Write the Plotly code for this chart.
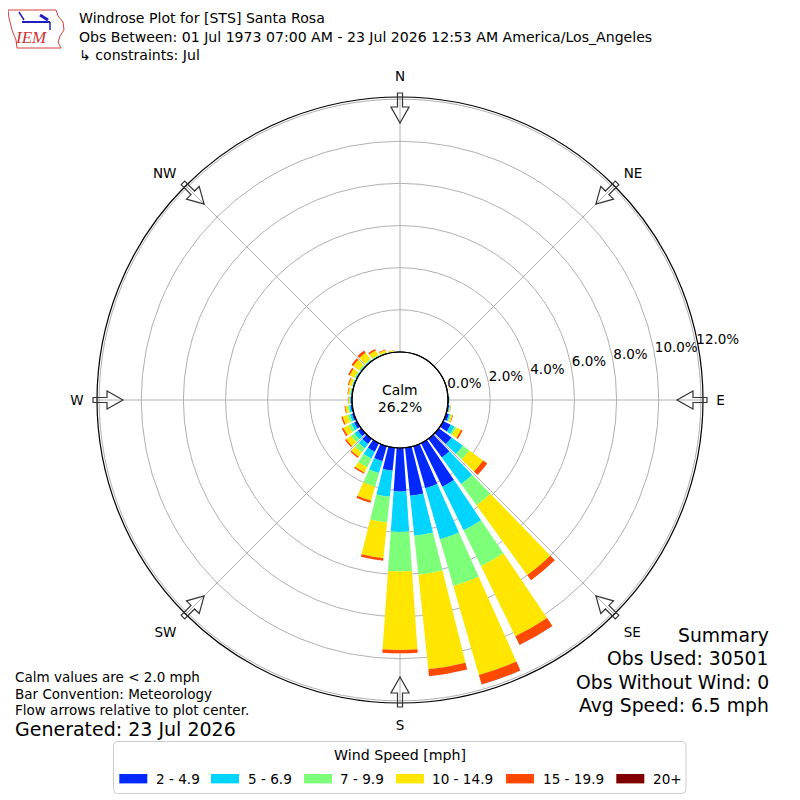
import math
import plotly.graph_objects as go

# ---------------- data ----------------
directions = list(range(0, 360, 10))
speed_labels = ["2 - 4.9", "5 - 6.9", "7 - 9.9", "10 - 14.9", "15 - 19.9", "20+"]
colors = ["#0028ff", "#00d4ff", "#7dff7a", "#ffe600", "#ff4800", "#800000"]

# frequency (%) of each speed bin per 10-degree direction (0, 10, ..., 350)
freq_2_5 = [0.02, 0.01, 0.01, 0.01, 0.01, 0.01, 0.01, 0.01, 0.02, 0.05, 0.07, 0.14,
            0.40, 0.75, 1.10, 2.30, 2.08, 2.29, 2.06, 1.10, 0.74, 0.45, 0.30, 0.20,
            0.15, 0.10, 0.08, 0.06, 0.05, 0.05, 0.05, 0.04, 0.04, 0.03, 0.02, 0.02]
freq_5_7 = [0.01, 0.01, 0.00, 0.00, 0.00, 0.00, 0.00, 0.01, 0.01, 0.02, 0.03, 0.06,
            0.20, 0.66, 1.55, 2.30, 2.52, 1.91, 1.92, 1.24, 0.59, 0.37, 0.25, 0.20,
            0.15, 0.10, 0.07, 0.04, 0.03, 0.03, 0.03, 0.03, 0.03, 0.02, 0.02, 0.01]
freq_7_10 = [0.01, 0.00, 0.01, 0.00, 0.00, 0.00, 0.00, 0.00, 0.00, 0.01, 0.02, 0.05,
             0.10, 0.38, 1.25, 1.90, 2.30, 1.86, 1.88, 1.23, 0.67, 0.45, 0.25, 0.20,
             0.15, 0.12, 0.07, 0.04, 0.04, 0.04, 0.06, 0.06, 0.05, 0.05, 0.03, 0.02]
freq_10_15 = [0.01, 0.01, 0.00, 0.01, 0.00, 0.00, 0.01, 0.00, 0.01, 0.01, 0.03, 0.07,
              0.25, 0.81, 4.10, 3.70, 4.40, 4.51, 3.72, 1.69, 0.70, 0.28, 0.25, 0.28,
              0.27, 0.23, 0.11, 0.04, 0.08, 0.13, 0.24, 0.34, 0.38, 0.23, 0.11, 0.04]
freq_15_20 = [0.00, 0.00, 0.00, 0.00, 0.00, 0.00, 0.00, 0.00, 0.00, 0.00, 0.01, 0.03,
              0.08, 0.24, 0.30, 0.45, 0.46, 0.33, 0.16, 0.13, 0.10, 0.07, 0.07, 0.07,
              0.08, 0.07, 0.04, 0.02, 0.03, 0.05, 0.08, 0.10, 0.12, 0.08, 0.04, 0.01]
freq_20p = [0.00, 0.00, 0.00, 0.00, 0.00, 0.00, 0.00, 0.00, 0.00, 0.00, 0.00, 0.00,
            0.00, 0.00, 0.00, 0.01, 0.01, 0.00, 0.00, 0.00, 0.00, 0.00, 0.00, 0.00,
            0.00, 0.00, 0.00, 0.00, 0.00, 0.00, 0.00, 0.00, 0.01, 0.00, 0.00, 0.00]
series = [freq_2_5, freq_5_7, freq_7_10, freq_10_15, freq_15_20, freq_20p]

radial_ticks = [0, 2, 4, 6, 8, 10, 12]
compass_angles = [0, 45, 90, 135, 180, 225, 270, 315]
compass_labels = ["N", "NE", "E", "SE", "S", "SW", "W", "NW"]

calm_pct = 26.2
title_lines = ["Windrose Plot for [STS] Santa Rosa",
               "Obs Between: 01 Jul 1973 07:00 AM - 23 Jul 2026 12:53 AM America/Los_Angeles",
               "\u21b3 constraints: Jul"]
notes = ["Calm values are < 2.0 mph", "Bar Convention: Meteorology",
         "Flow arrows relative to plot center."]
generated = "Generated: 23 Jul 2026"
summary = ["Summary", "Obs Used: 30501", "Obs Without Wind: 0", "Avg Speed: 6.5 mph"]

# ---------------- geometry (screen pixels) ----------------
W = H = 800
SHIFT = 8                   # page body offset of the plot div
CX, CY = 400, 400           # pixel centre
R_OUT = 303                 # outer radius px
R_HOLE = 48                 # hole radius px
RMAX = 12.1
FONT = "DejaVu Sans"


def px(x):
    return (x - SHIFT) / W


def py(y):
    return 1 - (y - SHIFT) / H


fig = go.Figure()

for vals, lab, col in zip(series, speed_labels, colors):
    fig.add_trace(go.Barpolar(
        r=vals, theta=directions, width=8, name=lab,
        marker=dict(color=col, line=dict(width=0)),
        showlegend=False, hoverinfo="skip"))

# radial tick labels via the polar scale
fig.add_trace(go.Scatterpolar(
    r=radial_ticks, theta=[80] * len(radial_ticks), mode="text",
    text=[f"{v:.1f}%" for v in radial_ticks], textposition="top right",
    textfont=dict(family=FONT, size=13.5, color="black"),
    cliponaxis=False, showlegend=False, hoverinfo="skip"))

fig.update_layout(
    width=W, height=H, margin=dict(l=0, r=0, t=0, b=0),
    paper_bgcolor="white", plot_bgcolor="white",
    font=dict(family=FONT, color="black"),
    polar=dict(
        domain=dict(x=[px(CX - R_OUT), px(CX + R_OUT)], y=[py(CY + R_OUT), py(CY - R_OUT)]),
        hole=R_HOLE / R_OUT,
        bgcolor="white",
        barmode="stack",
        radialaxis=dict(range=[0, RMAX], tickvals=radial_ticks, showticklabels=False,
                        ticks="", showline=False, gridcolor="#b0b0b0", gridwidth=1),
        angularaxis=dict(direction="clockwise", rotation=90,
                         tickvals=compass_angles, ticktext=compass_labels,
                         showline=True, linecolor="black", linewidth=1.2,
                         gridcolor="#b0b0b0", gridwidth=1,
                         ticks="outside", ticklen=10, tickcolor="rgba(0,0,0,0)",
                         tickfont=dict(family=FONT, size=13.5, color="black")),
    ),
)

shapes = []
# hole outline
shapes.append(dict(type="circle", xref="paper", yref="paper",
                   x0=px(CX - R_HOLE), x1=px(CX + R_HOLE),
                   y0=py(CY + R_HOLE), y1=py(CY - R_HOLE),
                   line=dict(color="black", width=1.2), fillcolor="rgba(0,0,0,0)"))

# flow arrows (pointing inward)
arrow_local = [(307, -2.5), (293, -2.5), (293, -9), (277, 0), (293, 9), (293, 2.5), (307, 2.5)]
for ang in compass_angles:
    a = math.radians(ang)
    pts = []
    for rr, vv in arrow_local:
        x = CX + rr * math.sin(a) + vv * math.cos(a)
        y = CY - rr * math.cos(a) + vv * math.sin(a)
        pts.append((px(x), py(y)))
    path = "M " + " L ".join(f"{x:.5f},{y:.5f}" for x, y in pts) + " Z"
    shapes.append(dict(type="path", xref="paper", yref="paper", path=path,
                       line=dict(color="#333333", width=1.2), fillcolor="rgba(0,0,0,0)"))

# legend box (rounded)
bx0, bx1, by0, by1, rc = 113.5, 686, 741.5, 793.5, 4
lp = (f"M {px(bx0 + rc)},{py(by0)} L {px(bx1 - rc)},{py(by0)} "
      f"Q {px(bx1)},{py(by0)} {px(bx1)},{py(by0 + rc)} L {px(bx1)},{py(by1 - rc)} "
      f"Q {px(bx1)},{py(by1)} {px(bx1 - rc)},{py(by1)} L {px(bx0 + rc)},{py(by1)} "
      f"Q {px(bx0)},{py(by1)} {px(bx0)},{py(by1 - rc)} L {px(bx0)},{py(by0 + rc)} "
      f"Q {px(bx0)},{py(by0)} {px(bx0 + rc)},{py(by0)} Z")
shapes.append(dict(type="path", xref="paper", yref="paper", path=lp,
                   line=dict(color="#cccccc", width=1), fillcolor="white"))

swatch_x = [119.3, 211, 304, 396, 506, 616.3]
label_x = [156.5, 249.4, 341, 433.4, 544.2, 653.5]
for sx, col in zip(swatch_x, colors):
    shapes.append(dict(type="rect", xref="paper", yref="paper",
                       x0=px(sx), x1=px(sx + 28), y0=py(783.4), y1=py(774),
                       line=dict(width=0), fillcolor=col))

# IEM logo (approximate)
logo = [(8, 10), (56, 10), (58, 16), (63, 22), (64, 30), (60, 36), (58, 42), (61, 48),
        (17, 48), (16, 40), (12, 30), (9, 18)]
shapes.append(dict(type="path", xref="paper", yref="paper",
                   path="M " + " L ".join(f"{px(x):.5f},{py(y):.5f}" for x, y in logo) + " Z",
                   line=dict(color="#d04040", width=1), fillcolor="white"))
shapes.append(dict(type="line", xref="paper", yref="paper", x0=px(22), x1=px(50),
                   y0=py(22), y1=py(22), line=dict(color="#2020c0", width=2)))
shapes.append(dict(type="line", xref="paper", yref="paper", x0=px(19), x1=px(24),
                   y0=py(12), y1=py(20), line=dict(color="#2020c0", width=1.5)))
shapes.append(dict(type="line", xref="paper", yref="paper", x0=px(40), x1=px(48),
                   y0=py(15), y1=py(20), line=dict(color="#2020c0", width=3)))
shapes.append(dict(type="line", xref="paper", yref="paper", x0=px(50), x1=px(50),
                   y0=py(22), y1=py(30), line=dict(color="#2020c0", width=1.5)))

fig.update_layout(shapes=shapes)

ann = []


def text(x, y, s, size, xanchor="left", yanchor="middle", **kw):
    if xanchor == "left":
        x -= 2
    elif xanchor == "right":
        x += 2
    ann.append(dict(x=px(x), y=py(y), xref="paper", yref="paper", text=s, showarrow=False,
                    xanchor=xanchor, yanchor=yanchor, borderpad=0,
                    font=dict(family=kw.get("family", FONT), size=size,
                              color=kw.get("color", "black"))))


for i, line in enumerate(title_lines):
    text(80, 18 + i * 18.5, line, 14.1)
for i, line in enumerate(notes):
    text(16, 677 + i * 16.5, line, 13.5)
text(16, 729, generated, 19)
for i, line in enumerate(summary):
    text(768, 635 + i * 23.5, line, 18.8, xanchor="right")
text(400, 390, "Calm", 13.9, xanchor="center")
text(400, 407, f"{calm_pct:.1f}%", 13.9, xanchor="center")
text(400, 754.7, "Wind Speed [mph]", 14.2, xanchor="center")
for lx, lab in zip(label_x, speed_labels):
    text(lx, 779, lab, 13.6)
ann.append(dict(x=px(31), y=py(38), xref="paper", yref="paper", text="<i>IEM</i>",
                showarrow=False, xanchor="center", yanchor="middle",
                font=dict(family="Liberation Serif", size=17, color="#d03030")))

fig.update_layout(annotations=ann)

fig.write_html("out.html")
